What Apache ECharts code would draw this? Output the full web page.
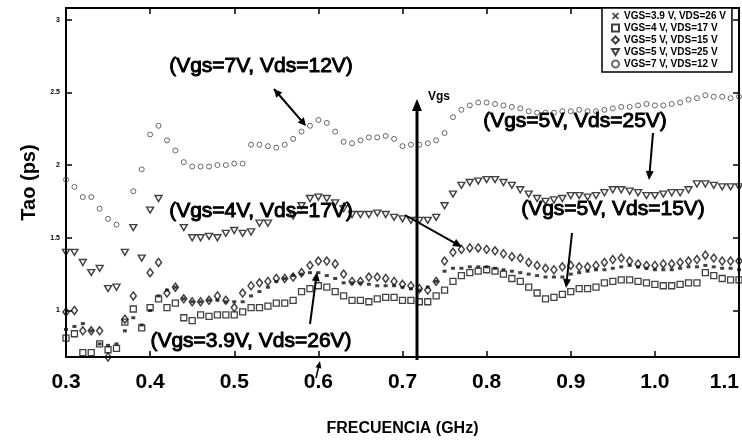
<!DOCTYPE html>
<html><head><meta charset="utf-8">
<script src="https://cdn.jsdelivr.net/npm/echarts@6/dist/echarts.min.js"></script>
<style>html,body{margin:0;padding:0;background:#fff}#c{width:742px;height:445px}</style>
</head><body><div id="c"></div><script>
// Frequency (GHz)
const freq = [
0.30,0.31,0.32,0.33,0.34,0.35,0.36,0.37,0.38,0.39,
0.40,0.41,0.42,0.43,0.44,0.45,0.46,0.47,0.48,0.49,
0.50,0.51,0.52,0.53,0.54,0.55,0.56,0.57,0.58,0.59,
0.60,0.61,0.62,0.63,0.64,0.65,0.66,0.67,0.68,0.69,
0.70,0.71,0.72,0.73,0.74,0.75,0.76,0.77,0.78,0.79,
0.80,0.81,0.82,0.83,0.84,0.85,0.86,0.87,0.88,0.89,
0.90,0.91,0.92,0.93,0.94,0.95,0.96,0.97,0.98,0.99,
1.00,1.01,1.02,1.03,1.04,1.05,1.06,1.07,1.08,1.09,
1.10];
// Tao (ps) per bias point
const tauVgs39Vds26 = [
0.87,0.89,0.91,0.86,0.77,0.76,0.77,0.86,0.95,0.90,
1.00,1.10,1.14,1.16,1.08,1.06,1.06,1.07,1.07,1.06,
1.06,1.06,1.10,1.13,1.16,1.20,1.22,1.24,1.25,1.26,
1.26,1.24,1.22,1.19,1.19,1.19,1.18,1.17,1.17,1.17,
1.16,1.15,1.14,1.16,1.20,1.27,1.29,1.29,1.30,1.30,
1.30,1.29,1.28,1.27,1.26,1.25,1.24,1.23,1.23,1.23,
1.25,1.26,1.27,1.28,1.28,1.29,1.30,1.31,1.30,1.29,
1.28,1.28,1.28,1.29,1.30,1.30,1.31,1.30,1.29,1.29,
1.28];
const tauVgs4Vds17 = [
0.81,0.84,0.71,0.71,0.77,0.73,0.74,0.92,1.01,0.88,
1.02,1.08,1.02,1.05,0.95,0.93,0.97,0.96,0.97,0.97,
0.97,0.99,1.02,1.02,1.03,1.05,1.05,1.07,1.13,1.15,
1.17,1.16,1.13,1.10,1.07,1.07,1.06,1.08,1.09,1.09,
1.07,1.07,1.06,1.06,1.10,1.14,1.20,1.24,1.26,1.27,
1.28,1.27,1.25,1.22,1.20,1.16,1.12,1.08,1.09,1.11,
1.13,1.15,1.15,1.16,1.19,1.20,1.21,1.21,1.20,1.19,
1.18,1.17,1.17,1.18,1.19,1.19,1.26,1.24,1.22,1.21,
1.21];
const tauVgs5Vds15 = [
0.99,1.00,0.86,0.86,0.86,0.68,0.67,0.94,1.10,null,
1.26,1.33,1.12,1.16,1.08,1.06,1.06,1.07,1.10,1.07,
1.02,1.12,1.17,1.19,1.20,1.22,1.22,1.23,1.26,1.31,
1.34,1.34,1.32,1.25,1.20,1.20,1.23,1.23,1.22,1.20,
1.18,1.17,1.15,1.14,1.20,1.34,1.40,1.42,1.43,1.43,
1.42,1.41,1.39,1.37,1.36,1.33,1.31,1.29,1.28,1.30,
1.31,1.30,1.30,1.31,1.33,1.35,1.36,1.34,1.32,1.31,
1.31,1.32,1.32,1.33,1.34,1.35,1.38,1.36,1.34,1.34,
1.34];
const tauVgs5Vds25 = [
1.40,1.40,1.33,1.26,1.29,1.15,1.16,1.40,1.57,1.36,
1.69,1.77,null,null,1.57,1.50,1.50,1.51,1.50,1.53,
1.55,1.53,1.54,1.60,1.60,null,null,1.65,1.72,1.77,
1.78,1.77,1.74,1.70,1.66,1.66,1.66,1.67,1.66,1.64,
1.63,1.62,1.62,1.62,1.64,1.72,1.80,1.86,1.88,1.89,
1.90,1.90,1.88,1.86,1.83,1.80,1.77,1.75,1.76,1.77,
1.79,1.79,1.78,1.79,1.81,1.83,1.83,1.82,1.81,1.79,
1.79,1.80,1.81,1.81,1.83,1.87,1.87,1.86,1.85,1.85,
1.85];
const tauVgs7Vds12 = [
1.90,1.85,1.78,1.78,1.70,1.63,1.59,null,1.82,1.97,
2.21,2.27,2.17,2.10,2.02,1.99,1.99,1.99,2.00,2.00,
2.01,2.01,2.14,2.14,2.13,2.12,2.14,2.18,2.23,2.27,
2.31,2.29,2.23,2.16,2.15,2.17,2.19,2.19,2.20,2.18,
2.13,2.14,2.14,2.15,2.17,2.22,2.33,2.38,2.41,2.43,
2.43,2.42,2.41,2.40,2.39,2.37,2.36,2.36,2.36,2.37,
2.37,2.38,2.37,2.37,2.38,2.39,2.40,2.40,2.41,2.42,
2.41,2.41,2.42,2.43,2.45,2.46,2.48,2.47,2.47,2.46,
2.47];
const seriesNames = ['VGS=3.9 V, VDS=26 V','VGS=4 V, VDS=17 V','VGS=5 V, VDS=15 V','VGS=5 V, VDS=25 V','VGS=7 V, VDS=12 V'];
const yTickValues = [1, 1.5, 2, 2.5, 3];
const yTickLabels = ['1', '1.5', '2', '2.5', '3'];

const FONT = '"Liberation Sans", Arial, sans-serif';
function pts(arr){ const out=[]; for(let i=0;i<freq.length;i++){ if(arr[i]!=null) out.push([freq[i], arr[i]]); } return out; }
const hollow = (w) => ({color:'rgba(0,0,0,0)', borderColor:'#111', borderWidth:w});

const chart = echarts.init(document.getElementById('c'), null, {renderer:'canvas'});

function arrow(x1,y1,x2,y2,opt){
  opt = opt||{};
  const lw = opt.lw||2, hl = opt.hl||9, hw = opt.hw||4;
  const els = [];
  const dx=x2-x1, dy=y2-y1, L=Math.sqrt(dx*dx+dy*dy), ux=dx/L, uy=dy/L, px=-uy, py=ux;
  const head = (tx,ty,sx,sy) => ({type:'polygon', z:100, shape:{points:[[tx,ty],[tx-sx*hl+px*hw,ty-sy*hl+py*hw],[tx-sx*hl-px*hw,ty-sy*hl-py*hw]]}, style:{fill:'#000'}});
  els.push({type:'line', z:100, shape:{x1:x1,y1:y1,x2:x2-ux*hl*0.6,y2:y2-uy*hl*0.6}, style:{stroke:'#000', lineWidth:lw}});
  els.push(head(x2,y2,ux,uy));
  if(opt.both){ els.push(head(x1,y1,-ux,-uy)); }
  return els;
}
function label(text,x,y,size){
  return {type:'text', z:101, x:x, y:y, style:{text:text, fill:'#000', font:'normal '+size+'px '+FONT, align:'center', verticalAlign:'middle', stroke:'#000', lineWidth:1}};
}

const graphics = [].concat(
  [label('(Vgs=7V, Vds=12V)', 261, 66, 21),
   label('(Vgs=5V, Vds=25V)', 575, 121, 21),
   label('(Vgs=4V, Vds=17V)', 261, 211, 21),
   label('(Vgs=5V, Vds=15V)', 613, 209, 21),
   label('(Vgs=3.9V, Vds=26V)', 251, 341, 21),
   {type:'text', z:101, x:428, y:97, style:{text:'Vgs', fill:'#000', font:'bold 12px '+FONT, align:'left', verticalAlign:'middle'}}],
  arrow(274,89,306,126,{both:true, hl:8, hw:4}),
  arrow(653,133,649,180,{hl:9, hw:4}),
  arrow(405,215,462,247,{hl:9, hw:4}),
  arrow(572,233,566,288,{hl:9, hw:4}),
  arrow(310,324,317,272,{hl:9, hw:4}),
  arrow(316,378,320,361,{hl:7, hw:3, lw:1.5}),
  arrow(417,360,417,99,{hl:12, hw:5, lw:3})
);

const axisLineStyle = {color:'#000', width:2};
const option = {
  animation:false,
  backgroundColor:'#fff',
  grid:{left:66, top:8, right:2, bottom:88},
  legend:{
    orient:'vertical', left:602, top:8, padding:[3,6,3,9], itemGap:2,
    itemWidth:7, itemHeight:7, borderColor:'#000', borderWidth:1.5, backgroundColor:'#fff',
    textStyle:{fontFamily:FONT, fontWeight:'bold', fontSize:10, lineHeight:10, color:'#000'},
    data:[
      {name:seriesNames[0], icon:'path://M0,1L1,0L3,2L5,0L6,1L4,3L6,5L5,6L3,4L1,6L0,5L2,3Z'},
      {name:seriesNames[1]},{name:seriesNames[2]},{name:seriesNames[3]},{name:seriesNames[4]}
    ]
  },
  xAxis:[
    {type:'value', min:0.3, max:1.1, interval:0.1, position:'bottom',
     axisLine:{onZero:false, lineStyle:axisLineStyle},
     axisTick:{inside:true, length:6, lineStyle:{color:'#000', width:1.5}},
     axisLabel:{formatter:v=>v.toFixed(1), fontFamily:FONT, fontWeight:'bold', fontSize:21, color:'#000', margin:15, alignMaxLabel:'right'},
     splitLine:{show:false},
     name:'FRECUENCIA (GHz)', nameLocation:'middle', nameGap:64,
     nameTextStyle:{fontFamily:FONT, fontWeight:'bold', fontSize:16, color:'#000'}},
    {type:'value', min:0.3, max:1.1, interval:0.1, position:'top',
     axisLine:{onZero:false, lineStyle:axisLineStyle},
     axisTick:{inside:true, length:6, lineStyle:{color:'#000', width:1.5}},
     axisLabel:{show:false}, splitLine:{show:false}}
  ],
  yAxis:[
    {type:'value', min:0.68, max:3.08, position:'left',
     axisLine:{onZero:false, lineStyle:axisLineStyle},
     axisTick:{inside:true, length:6, customValues:yTickValues, lineStyle:{color:'#000', width:1.5}},
     axisLabel:{customValues:yTickValues, formatter:v=>yTickLabels[yTickValues.indexOf(v)] ?? String(v), fontFamily:FONT, fontWeight:'bold', fontSize:7, color:'#000', margin:6},
     splitLine:{show:false},
     name:'Tao (ps)', nameLocation:'middle', nameGap:22, nameRotate:90,
     nameTextStyle:{fontFamily:FONT, fontWeight:'bold', fontSize:20, color:'#000'}},
    {type:'value', min:0.68, max:3.08, position:'right',
     axisLine:{onZero:false, lineStyle:axisLineStyle},
     axisTick:{inside:true, length:6, customValues:yTickValues, lineStyle:{color:'#000', width:1.5}},
     axisLabel:{show:false}, splitLine:{show:false}}
  ],
  series:[
    {name:seriesNames[0], type:'scatter', data:pts(tauVgs39Vds26), symbol:'rect', symbolSize:[4,3], itemStyle:{color:'#111'}, z:3},
    {name:seriesNames[1], type:'scatter', data:pts(tauVgs4Vds17), symbol:'rect', symbolSize:6, itemStyle:hollow(1.3), z:2},
    {name:seriesNames[2], type:'scatter', data:pts(tauVgs5Vds15), symbol:'diamond', symbolSize:[6,8], itemStyle:hollow(1.5), z:2},
    {name:seriesNames[3], type:'scatter', data:pts(tauVgs5Vds25), symbol:'path://M0,0L10,0L5,8.66Z', symbolSize:[7,6], itemStyle:hollow(1.4), z:2},
    {name:seriesNames[4], type:'scatter', data:pts(tauVgs7Vds12), symbol:'circle', symbolSize:5, itemStyle:{color:'rgba(0,0,0,0)', borderColor:'#444', borderWidth:1}, z:2}
  ],
  graphic:graphics
};
chart.setOption(option);
</script></body></html>
